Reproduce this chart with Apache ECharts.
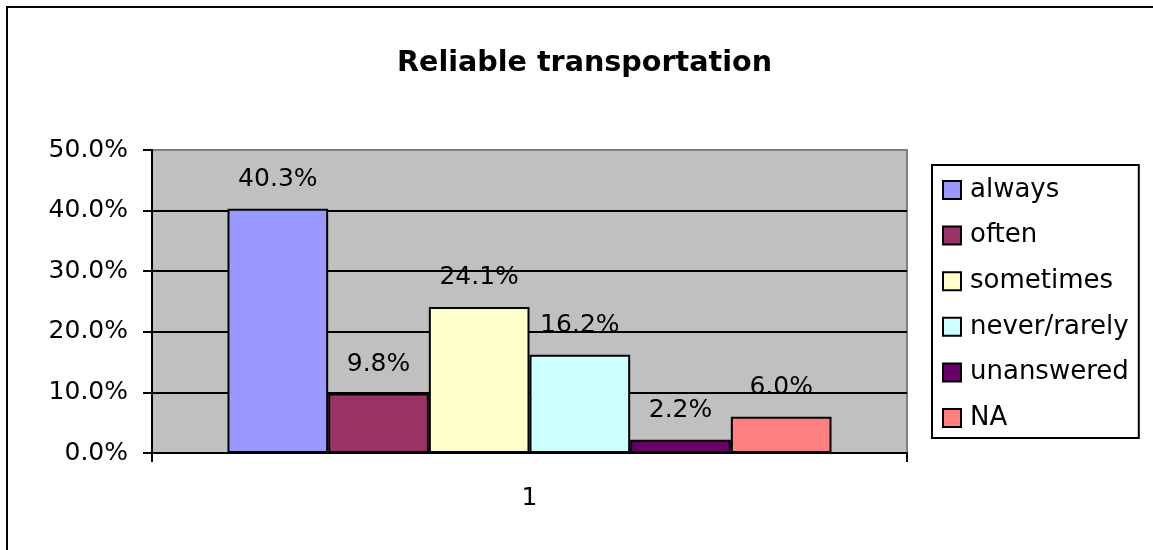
<!DOCTYPE html>
<html>
<head>
<meta charset="utf-8">
<title>Reliable transportation</title>
<script src="https://cdn.jsdelivr.net/npm/echarts@6/dist/echarts.min.js"></script>
<style>
  html, body { margin: 0; padding: 0; background: #fff; }
  #chart { width: 1153px; height: 550px; }
</style>
</head>
<body>
<div id="chart"></div>
<script>
// Survey answers: share of respondents with reliable transportation
const categories = ['1'];
const seriesNames = ['always', 'often', 'sometimes', 'never/rarely', 'unanswered', 'NA'];
const seriesValues = [40.3, 9.8, 24.1, 16.2, 2.2, 6.0];
const seriesColors = ['#9999FF', '#993366', '#FFFFCC', '#CCFFFF', '#660066', '#FF8080'];
const yTicks = { min: 0, max: 50, interval: 10 };

const FONT = 'DejaVu Sans';
const pct = v => Number(v).toFixed(1) + '%';

const series = seriesNames.map((name, i) => ({
  name: name,
  type: 'bar',
  data: [seriesValues[i]],
  barGap: '0%',
  barCategoryGap: '20%',
  itemStyle: { color: seriesColors[i], borderColor: '#000', borderWidth: 2 },
  label: {
    show: true,
    position: 'top',
    distance: 17,
    formatter: p => pct(p.value),
    color: '#000',
    fontFamily: FONT,
    fontSize: 25,
    lineHeight: 25
  }
}));

const chart = echarts.init(document.getElementById('chart'), null, { renderer: 'canvas' });
chart.setOption({
  animation: false,
  backgroundColor: '#fff',
  title: {
    text: 'Reliable transportation',
    left: 392,
    top: 44,
    textStyle: { fontFamily: FONT, fontWeight: 'bold', fontSize: 28.6, color: '#000', lineHeight: 29 }
  },
  graphic: [{
    type: 'rect',
    shape: { x: 7, y: 7, width: 1300, height: 700 },
    style: { fill: 'none', stroke: '#000', lineWidth: 2 },
    z: 100
  }],
  legend: {
    orient: 'vertical',
    left: 932,
    top: 165,
    padding: [12, 10, 7, 10],
    itemWidth: 18,
    itemHeight: 18,
    itemGap: 19.6,
    icon: 'rect',
    borderColor: '#000',
    borderWidth: 2,
    backgroundColor: '#fff',
    textStyle: { fontFamily: FONT, fontSize: 26, lineHeight: 26, color: '#000', padding: [0, 0, 0, 4] },
    data: seriesNames
  },
  grid: {
    left: 152,
    top: 150,
    right: 246,
    bottom: 97,
    show: true,
    backgroundColor: '#C0C0C0',
    borderColor: '#808080',
    borderWidth: 2
  },
  xAxis: {
    type: 'category',
    data: categories,
    boundaryGap: true,
    axisLine: { lineStyle: { color: '#000', width: 2 } },
    axisTick: { show: true, length: 9, lineStyle: { color: '#000', width: 2 } },
    axisLabel: { margin: 33, fontFamily: FONT, fontSize: 25, color: '#000' }
  },
  yAxis: {
    type: 'value',
    min: yTicks.min,
    max: yTicks.max,
    interval: yTicks.interval,
    axisLine: { show: true, lineStyle: { color: '#000', width: 2 } },
    axisTick: { show: true, length: 9, lineStyle: { color: '#000', width: 2 } },
    axisLabel: { margin: 24, formatter: pct, fontFamily: FONT, fontSize: 25, color: '#000' },
    splitLine: { show: true, showMaxLine: false, lineStyle: { color: '#000', width: 2 } }
  },
  series: series
});
</script>
</body>
</html>
